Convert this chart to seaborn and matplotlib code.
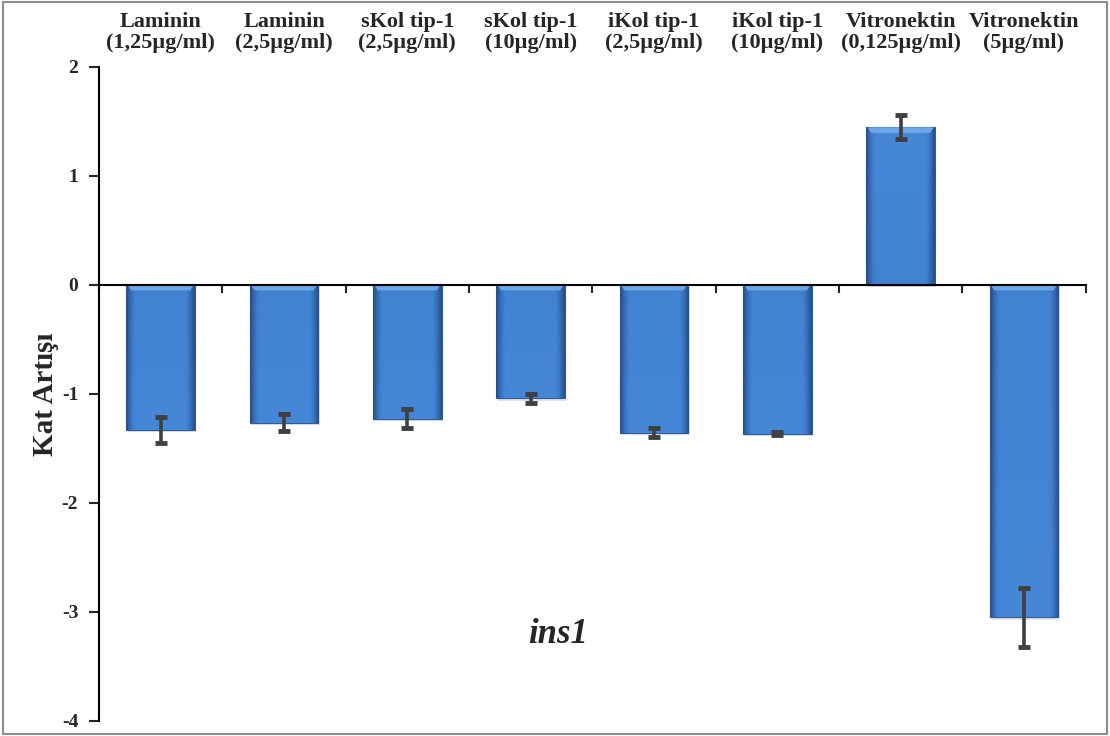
import numpy as np
import pandas as pd
import seaborn as sns
import matplotlib.pyplot as plt
from matplotlib.colors import LinearSegmentedColormap
from matplotlib.patches import Rectangle, Polygon

# Data
categories = ["Laminin\n(1,25µg/ml)", "Laminin\n(2,5µg/ml)", "sKol tip-1\n(2,5µg/ml)",
              "sKol tip-1\n(10µg/ml)", "iKol tip-1\n(2,5µg/ml)", "iKol tip-1\n(10µg/ml)",
              "Vitronektin\n(0,125µg/ml)", "Vitronektin\n(5µg/ml)"]
fold_change = [-1.33, -1.265, -1.225, -1.04, -1.355, -1.365, 1.445, -3.05]
errors = [0.122, 0.078, 0.083, 0.041, 0.043, 0.015, 0.11, 0.27]
yticks = [-4, -3, -2, -1, 0, 1, 2]

sns.set_theme(style="white")
plt.rcParams['font.family'] = ['Liberation Serif', 'DejaVu Serif']
plt.rcParams['font.weight'] = 'bold'

df = pd.DataFrame({"cat": categories, "val": fold_change})

fig = plt.figure(figsize=(11.1, 7.36), dpi=100)
ax = fig.add_axes([0.0892, 0.0204, 0.8888, 0.8886])

sns.barplot(data=df, x="cat", y="val", order=categories, color="#3F7CCD",
            width=0.557, ax=ax, saturation=1, errorbar=None,
            edgecolor="#2C5C9A", linewidth=0.8, zorder=3)

# gradient fill clipped to each bar
cmap = LinearSegmentedColormap.from_list("bev", ["#284F86", "#346AB2", "#4080D0", "#4586D7"])
prof = np.concatenate([np.linspace(0, 1, 10), np.ones(44), np.linspace(1, 0, 10)])
grad = np.tile(prof, (60, 1))
vert = np.concatenate([np.linspace(0.78, 1.0, 50), np.ones(10)])[:, None]
grad = grad * vert
bars = list(ax.patches)
for p in bars:
    x0, y0 = p.get_x(), p.get_y()
    w, h = p.get_width(), p.get_height()
    ylo, yhi = min(y0, y0 + h), max(y0, y0 + h)
    g = grad if h > 0 else grad[::-1]
    img = ax.imshow(g, extent=[x0, x0 + w, ylo, yhi], aspect="auto", cmap=cmap,
                    vmin=0, vmax=1, zorder=3.1, origin="lower")
    img.set_clip_path(p)
    # soft shadow
    ax.add_patch(Rectangle((x0 + 0.012, ylo - 0.02), w, yhi - ylo, facecolor="#000000",
                           alpha=0.12, edgecolor="none", zorder=2.9))
    # light bevel strip at the top end of the bar
    s = 0.05
    dx = w * 0.07
    top = yhi
    ax.add_patch(Polygon([(x0 + 0.01, top), (x0 + w - 0.01, top),
                          (x0 + w - dx, top - s), (x0 + dx, top - s)],
                         closed=True, facecolor="#6EA9EA", edgecolor="none",
                         zorder=3.2, alpha=0.95))

# error bars
for p, e in zip(bars, errors):
    xc = p.get_x() + p.get_width() / 2
    yv = p.get_y() + p.get_height()
    ax.errorbar(xc, yv, yerr=e, fmt="none", ecolor="#404040", elinewidth=2.6,
                capsize=4, capthick=3.5, zorder=4)

ax.set_xlim(-0.5, len(categories) - 0.5)
ax.set_ylim(-4, 2)
ax.set_yticks(yticks)
ax.set_yticklabels([str(t) for t in yticks], fontsize=14, fontweight="bold")

ax.spines["top"].set_visible(False)
ax.spines["right"].set_visible(False)
ax.spines["bottom"].set_position(("data", 0))
ax.spines["bottom"].set_linewidth(1.5)
ax.spines["left"].set_linewidth(1.5)
ax.spines["bottom"].set_color("black")
ax.spines["left"].set_color("black")
ax.spines["bottom"].set_zorder(5)

ax.set_xticks(range(len(categories)))
ax.set_xticklabels(categories, fontsize=16, fontweight="bold", linespacing=1.1)
ax.tick_params(axis="x", which="major", length=0, labeltop=True, labelbottom=False, pad=10)
ax.set_xticks(np.arange(-0.5, len(categories), 1), minor=True)
ax.tick_params(axis="x", which="minor", direction="out", length=6, width=1.5, bottom=True)
ax.tick_params(axis="y", direction="out", length=7, width=1.5, left=True, pad=8)

ax.set_xlabel("")
ax.set_ylabel("Kat Artışı", fontsize=21, fontweight="bold", labelpad=2)

ax.text(3.22, -3.21, "ins1", fontsize=25, fontweight="bold", fontstyle="italic",
        ha="center", va="center")

fig.patches.append(Rectangle((0.003, 0.003), 0.994, 0.994, transform=fig.transFigure,
                             fill=False, edgecolor="#8C8C8C", linewidth=1.5))

fig.savefig("out.png", dpi=100)
